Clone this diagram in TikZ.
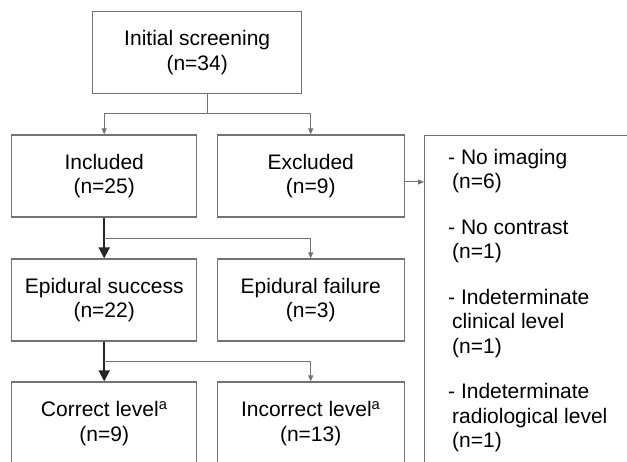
\documentclass[tikz,border=0pt]{standalone}
\usepackage{fontspec}
\setmainfont{Liberation Sans}
\usetikzlibrary{arrows.meta}

\colorlet{frame}{black!55}
\colorlet{flow}{black!85}

\begin{document}
\begin{tikzpicture}[x=1pt, y=-1pt,
  box/.style={draw=frame, line width=1.2pt, minimum width=185pt, minimum height=82pt,
    inner sep=0pt, align=center, font=\fontsize{21}{24.5}\selectfont},
  thinarrow/.style={draw=frame, line width=1pt, -{Triangle[length=6pt, width=5pt]}},
  thickarrow/.style={draw=flow, line width=2pt, -{Triangle[length=11pt, width=11pt]}}]
  \clip (0, 0) rectangle (627, 462);
  \draw (197.2, 52.5)  node[box, minimum width=209pt] (screening) {Initial screening\\(n=34)};
  \draw (104.2, 176)   node[box] (included) {Included\\(n=25)};
  \draw (310.7, 176)   node[box, minimum width=187pt] (excluded) {Excluded\\(n=9)};
  \draw (104.2, 300)   node[box] (success) {Epidural success\\(n=22)};
  \draw (310.7, 300)   node[box, minimum width=187pt] (failure) {Epidural failure\\(n=3)};
  \draw (104.2, 423.5) node[box, minimum height=83pt] (correct) {Correct level\textsuperscript{a}\\(n=9)};
  \draw (310.7, 423.5) node[box, minimum width=187pt, minimum height=83pt] (incorrect) {Incorrect level\textsuperscript{a}\\(n=13)};
  \draw (424, 135)     node[box, anchor=north west, minimum width=230pt, minimum height=360pt] (reasons) {};
  \draw (448, 149)     node[anchor=north west, inner sep=0pt, align=left, font=\fontsize{21}{24.5}\selectfont] (reasonlist)
    {- No imaging\\\hspace*{4pt}(n=6)\\[21pt]
     - No contrast\\\hspace*{4pt}(n=1)\\[21pt]
     - Indeterminate\\\hspace*{4pt}clinical level\\\hspace*{4pt}(n=1)\\[21pt]
     - Indeterminate\\\hspace*{4pt}radiological level\\\hspace*{4pt}(n=1)};
  \coordinate (split1) at (207, 114);
  \coordinate (split2) at (104.2, 239);
  \coordinate (split3) at (104.2, 362);
  \draw[frame, line width=1pt] (screening.south -| split1) -- (split1);
  \draw[thinarrow] (split1) -| (included.north);
  \draw[thinarrow] (split1) -| (excluded.north);
  \draw[thinarrow] ([yshift=-6pt]excluded.east) -- ([yshift=-6pt]excluded.east -| reasons.west);
  \draw[thickarrow] (included.south) -- (success.north);
  \draw[thinarrow] (split2) -| (failure.north);
  \draw[thickarrow] (success.south) -- (correct.north);
  \draw[thinarrow] (split3) -| (incorrect.north);
\end{tikzpicture}
\end{document}
